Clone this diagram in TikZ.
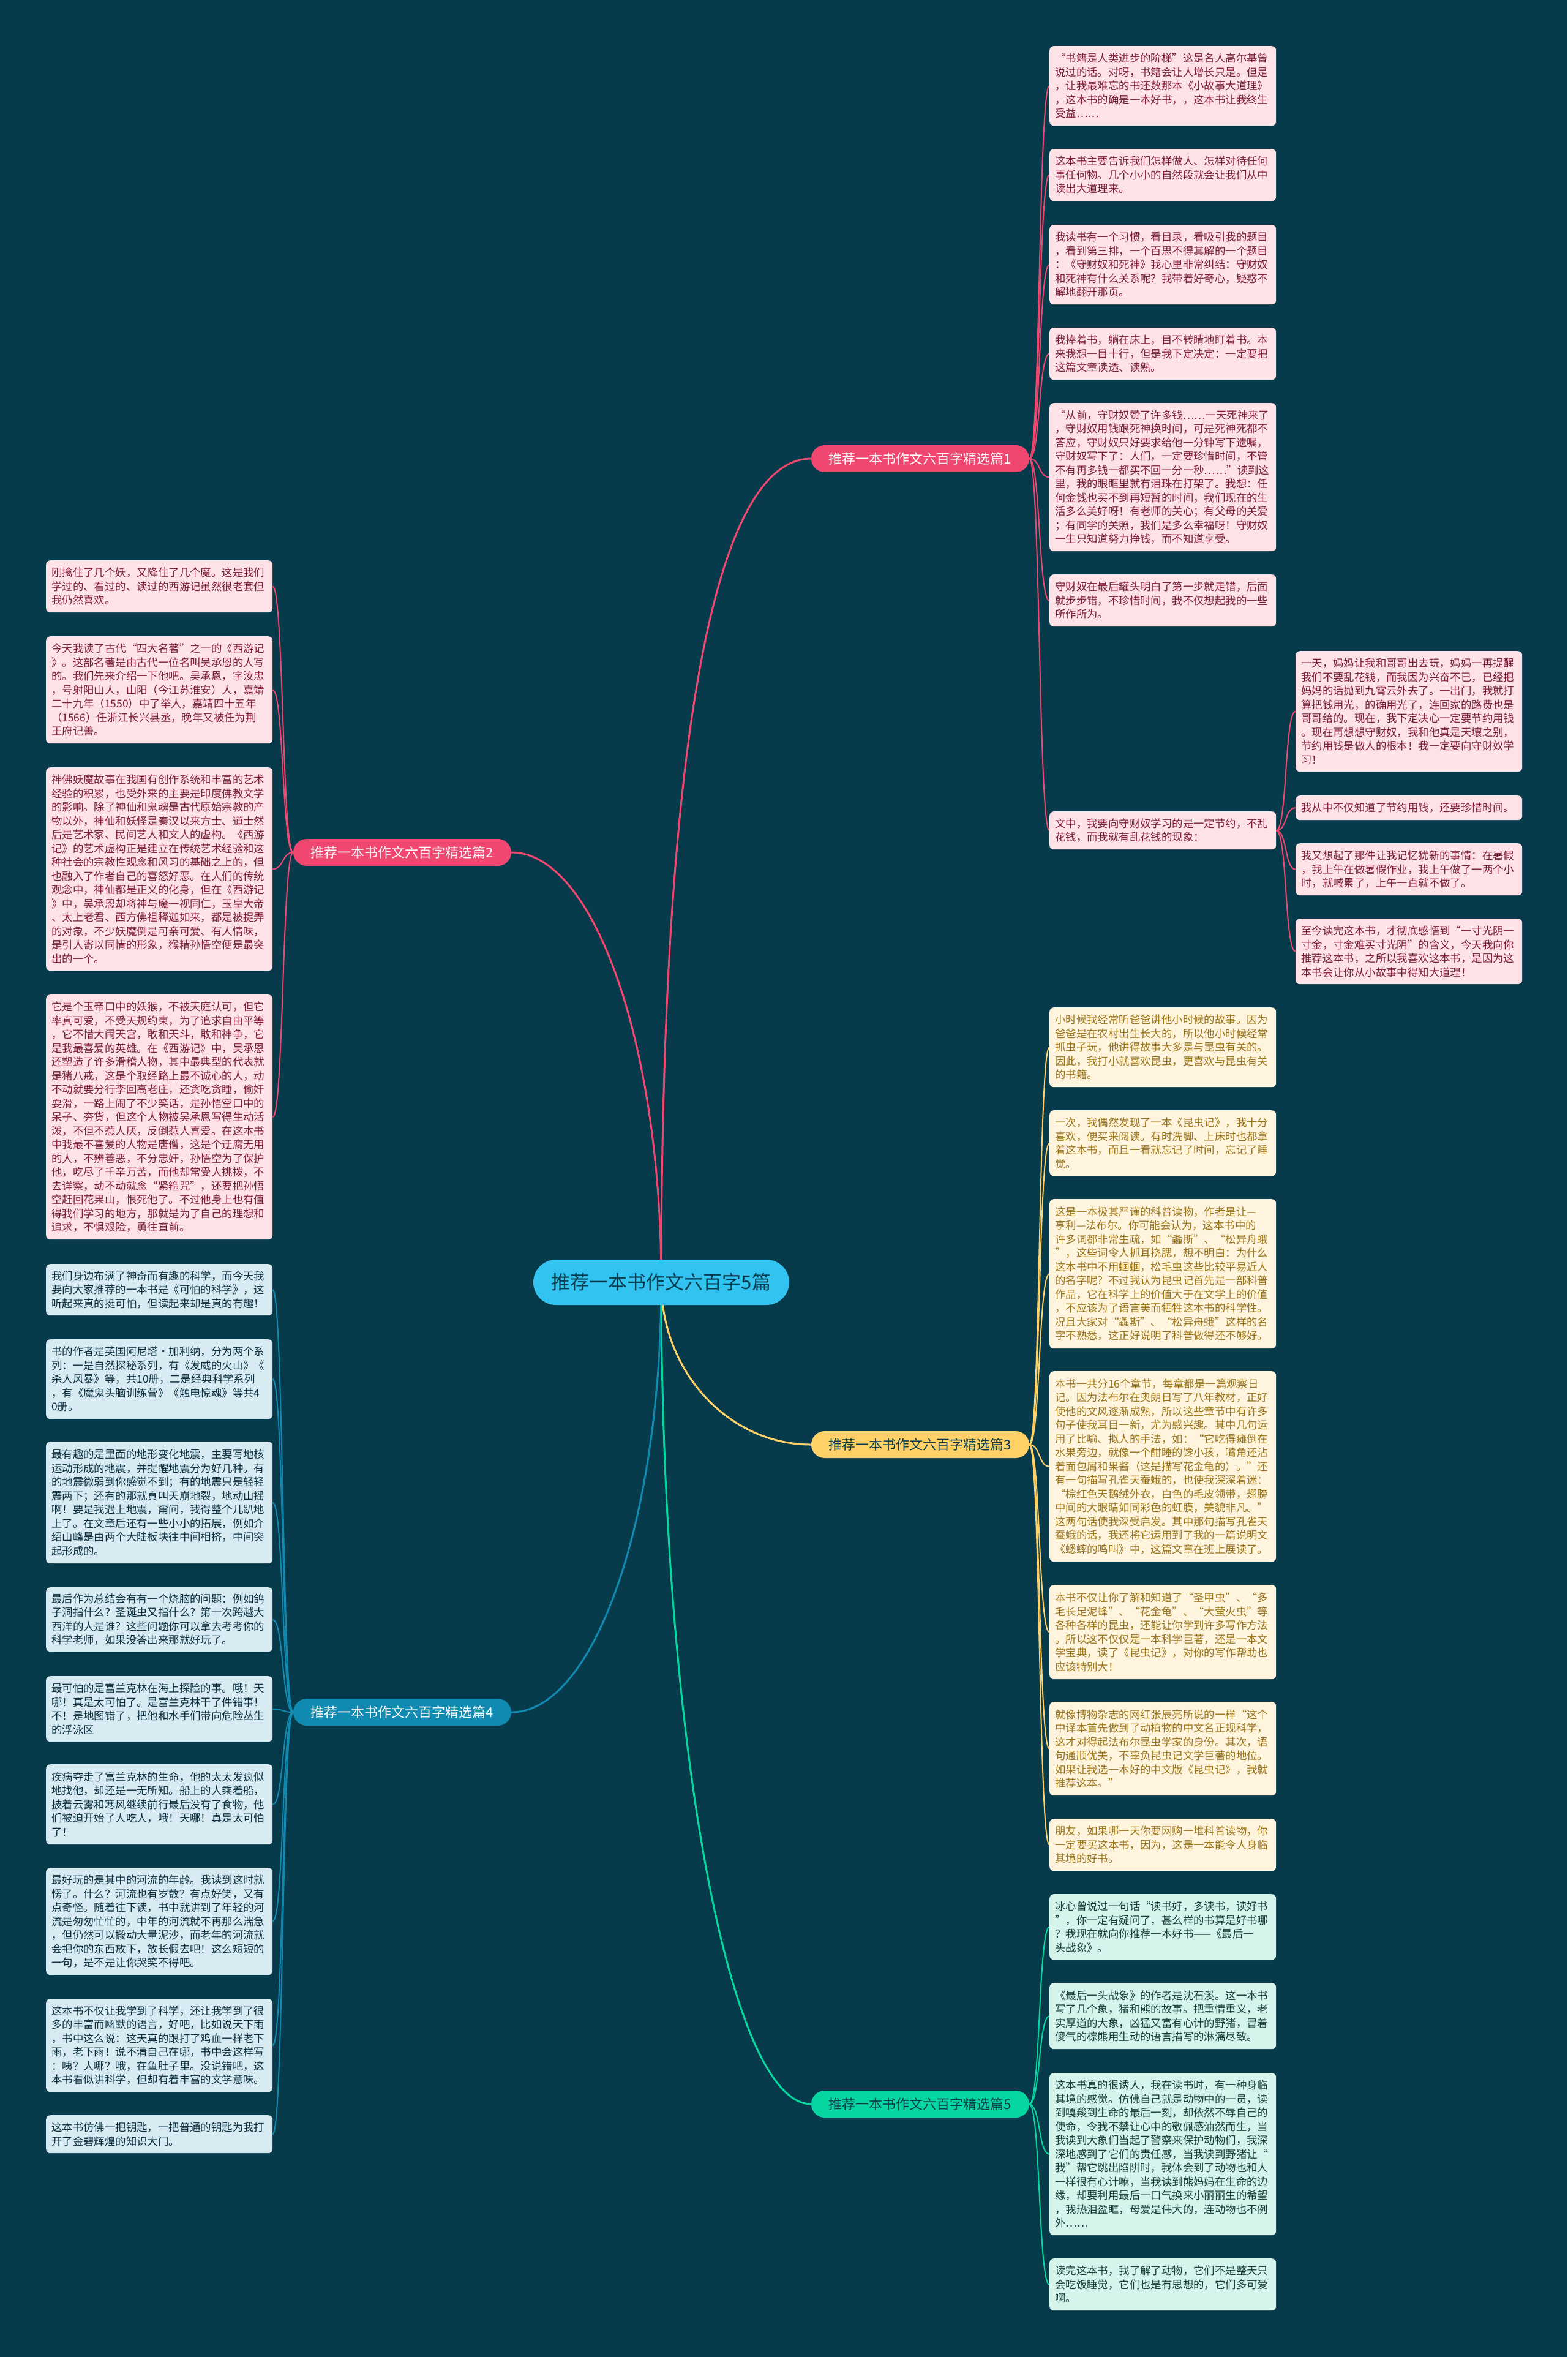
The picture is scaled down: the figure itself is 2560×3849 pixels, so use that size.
\documentclass[tikz,border=0pt]{standalone}
\usepackage{fontspec}
\setmainfont{Noto Sans CJK SC}
\usetikzlibrary{backgrounds}
\definecolor{bgc}{HTML}{073B4C}
\definecolor{cpink}{HTML}{EF476F}
\definecolor{cyel}{HTML}{FFD166}
\definecolor{cblue}{HTML}{118AB2}
\definecolor{cgreen}{HTML}{06D6A0}
\definecolor{ccenter}{HTML}{33C3F0}
\definecolor{fpink}{HTML}{FDE3E8}
\definecolor{tpink}{HTML}{7E1D3C}
\definecolor{fyel}{HTML}{FFF5DF}
\definecolor{tyel}{HTML}{9A7418}
\definecolor{fblue}{HTML}{D8EBF2}
\definecolor{tblue}{HTML}{0B2F3F}
\definecolor{fgreen}{HTML}{D5F5EC}
\definecolor{tgreen}{HTML}{173F38}
\begin{document}
\begin{tikzpicture}[x=1pt,y=-1pt,
  leaf/.style={anchor=north west, rounded corners=7pt, inner xsep=9pt, inner ysep=3pt,
    text width=352pt, align=left, font=\fontsize{17.4pt}{22.5pt}\selectfont},
  lp/.style={leaf, fill=fpink, text=tpink},
  ly/.style={leaf, fill=fyel, text=tyel},
  lb/.style={leaf, fill=fblue, text=tblue},
  lg/.style={leaf, fill=fgreen, text=tgreen},
  branch/.style={rounded corners=22pt, minimum width=356pt, minimum height=44pt,
    inner sep=0pt, font=\fontsize{22pt}{26pt}\selectfont},
  mainline/.style={line width=3pt},
  leafline/.style={line width=2pt}
]
\useasboundingbox (0,0) rectangle (2560,3849);

% center and branches
\node[fill=ccenter, rounded corners=37pt, minimum width=418pt, minimum height=74pt,
  inner sep=0pt, font=\fontsize{31pt}{36pt}\selectfont, text=bgc] (c) at (1080,2094) {推荐一本书作文六百字5篇};
\node[branch, fill=cpink, text=white] (b1) at (1503,749) {推荐一本书作文六百字精选篇1};
\node[branch, fill=cpink, text=white] (b2) at (657,1392) {推荐一本书作文六百字精选篇2};
\node[branch, fill=cyel, text=bgc] (b3) at (1503,2359) {推荐一本书作文六百字精选篇3};
\node[branch, fill=cblue, text=white] (b4) at (657,2796) {推荐一本书作文六百字精选篇4};
\node[branch, fill=cgreen, text=bgc] (b5) at (1503,3436) {推荐一本书作文六百字精选篇5};

% branch 1
\node[lp, minimum height=130pt] (l11) at (1714,75) {“书籍是人类进步的阶梯”这是名人高尔基曾\\说过的话。对呀，书籍会让人增长只是。但是\\，让我最难忘的书还数那本《小故事大道理》\\，这本书的确是一本好书，，这本书让我终生\\受益……};
\node[lp, minimum height=85pt] (l12) at (1714,243) {这本书主要告诉我们怎样做人、怎样对待任何\\事任何物。几个小小的自然段就会让我们从中\\读出大道理来。};
\node[lp, minimum height=130pt] (l13) at (1714,367) {我读书有一个习惯，看目录，看吸引我的题目\\，看到第三排，一个百思不得其解的一个题目\\：《守财奴和死神》我心里非常纠结：守财奴\\和死神有什么关系呢？我带着好奇心，疑惑不\\解地翻开那页。};
\node[lp, minimum height=85pt] (l14) at (1714,535) {我捧着书，躺在床上，目不转睛地盯着书。本\\来我想一目十行，但是我下定决定：一定要把\\这篇文章读透、读熟。};
\node[lp, minimum height=242pt] (l15) at (1714,658) {“从前，守财奴赞了许多钱……一天死神来了\\，守财奴用钱跟死神换时间，可是死神死都不\\答应，守财奴只好要求给他一分钟写下遗嘱，\\守财奴写下了：人们，一定要珍惜时间，不管\\不有再多钱一都买不回一分一秒……”读到这\\里，我的眼眶里就有泪珠在打架了。我想：任\\何金钱也买不到再短暂的时间，我们现在的生\\活多么美好呀！有老师的关心；有父母的关爱\\；有同学的关照，我们是多么幸福呀！守财奴\\一生只知道努力挣钱，而不知道享受。};
\node[lp, minimum height=85pt] (l16) at (1714,938) {守财奴在最后罐头明白了第一步就走错，后面\\就步步错，不珍惜时间，我不仅想起我的一些\\所作所为。};
\node[lp, minimum height=62pt] (l17) at (1714,1325) {文中，我要向守财奴学习的是一定节约，不乱\\花钱，而我就有乱花钱的现象：};

\node[lp, minimum height=197pt] (s1) at (2116,1063) {一天，妈妈让我和哥哥出去玩，妈妈一再提醒\\我们不要乱花钱，而我因为兴奋不已，已经把\\妈妈的话抛到九霄云外去了。一出门，我就打\\算把钱用光，的确用光了，连回家的路费也是\\哥哥给的。现在，我下定决心一定要节约用钱\\。现在再想想守财奴，我和他真是天壤之别，\\节约用钱是做人的根本！我一定要向守财奴学\\习！};
\node[lp, minimum height=40pt] (s2) at (2116,1299) {我从中不仅知道了节约用钱，还要珍惜时间。};
\node[lp, minimum height=85pt] (s3) at (2116,1377) {我又想起了那件让我记忆犹新的事情：在暑假\\，我上午在做暑假作业，我上午做了一两个小\\时，就喊累了，上午一直就不做了。};
\node[lp, minimum height=107pt] (s4) at (2116,1500) {至今读完这本书，才彻底感悟到“一寸光阴一\\寸金，寸金难买寸光阴”的含义，今天我向你\\推荐这本书，之所以我喜欢这本书，是因为这\\本书会让你从小故事中得知大道理！};

% branch 2
\node[lp, minimum height=85pt] (l21) at (75,915) {刚擒住了几个妖，又降住了几个魔。这是我们\\学过的、看过的、读过的西游记虽然很老套但\\我仍然喜欢。};
\node[lp, minimum height=175pt] (l22) at (75,1039) {今天我读了古代“四大名著”之一的《西游记\\》。这部名著是由古代一位名叫吴承恩的人写\\的。我们先来介绍一下他吧。吴承恩，字汝忠\\，号射阳山人，山阳（今江苏淮安）人，嘉靖\\二十九年（1550）中了举人，嘉靖四十五年\\（1566）任浙江长兴县丞，晚年又被任为荆\\王府记善。};
\node[lp, minimum height=332pt] (l23) at (75,1253) {神佛妖魔故事在我国有创作系统和丰富的艺术\\经验的积累，也受外来的主要是印度佛教文学\\的影响。除了神仙和鬼魂是古代原始宗教的产\\物以外，神仙和妖怪是秦汉以来方士、道士然\\后是艺术家、民间艺人和文人的虚构。《西游\\记》的艺术虚构正是建立在传统艺术经验和这\\种社会的宗教性观念和风习的基础之上的，但\\也融入了作者自己的喜怒好恶。在人们的传统\\观念中，神仙都是正义的化身，但在《西游记\\》中，吴承恩却将神与魔一视同仁，玉皇大帝\\、太上老君、西方佛祖释迦如来，都是被捉弄\\的对象，不少妖魔倒是可亲可爱、有人情味，\\是引人寄以同情的形象，猴精孙悟空便是最突\\出的一个。};
\node[lp, minimum height=400pt] (l24) at (75,1624) {它是个玉帝口中的妖猴，不被天庭认可，但它\\率真可爱，不受天规约束，为了追求自由平等\\，它不惜大闹天宫，敢和天斗，敢和神争，它\\是我最喜爱的英雄。在《西游记》中，吴承恩\\还塑造了许多滑稽人物，其中最典型的代表就\\是猪八戒，这是个取经路上最不诚心的人，动\\不动就要分行李回高老庄，还贪吃贪睡，偷奸\\耍滑，一路上闹了不少笑话，是孙悟空口中的\\呆子、夯货，但这个人物被吴承恩写得生动活\\泼，不但不惹人厌，反倒惹人喜爱。在这本书\\中我最不喜爱的人物是唐僧，这是个迂腐无用\\的人，不辨善恶，不分忠奸，孙悟空为了保护\\他，吃尽了千辛万苦，而他却常受人挑拨，不\\去详察，动不动就念“紧箍咒”，还要把孙悟\\空赶回花果山，恨死他了。不过他身上也有值\\得我们学习的地方，那就是为了自己的理想和\\追求，不惧艰险，勇往直前。};

% branch 3
\node[ly, minimum height=130pt] (l31) at (1714,1645) {小时候我经常听爸爸讲他小时候的故事。因为\\爸爸是在农村出生长大的，所以他小时候经常\\抓虫子玩，他讲得故事大多是与昆虫有关的。\\因此，我打小就喜欢昆虫，更喜欢与昆虫有关\\的书籍。};
\node[ly, minimum height=107pt] (l32) at (1714,1813) {一次，我偶然发现了一本《昆虫记》，我十分\\喜欢，便买来阅读。有时洗脚、上床时也都拿\\着这本书，而且一看就忘记了时间，忘记了睡\\觉。};
\node[ly, minimum height=244pt] (l33) at (1714,1958) {这是一本极其严谨的科普读物，作者是让—\\亨利—法布尔。你可能会认为，这本书中的\\许多词都非常生疏，如“螽斯”、“松异舟蛾\\”，这些词令人抓耳挠腮，想不明白：为什么\\这本书中不用蝈蝈，松毛虫这些比较平易近人\\的名字呢？不过我认为昆虫记首先是一部科普\\作品，它在科学上的价值大于在文学上的价值\\，不应该为了语言美而牺牲这本书的科学性。\\况且大家对“螽斯”、“松异舟蛾”这样的名\\字不熟悉，这正好说明了科普做得还不够好。};
\node[ly, minimum height=311pt] (l34) at (1714,2239) {本书一共分16个章节，每章都是一篇观察日\\记。因为法布尔在奥朗日写了八年教材，正好\\使他的文风逐渐成熟，所以这些章节中有许多\\句子使我耳目一新，尤为感兴趣。其中几句运\\用了比喻、拟人的手法，如：“它吃得瘫倒在\\水果旁边，就像一个酣睡的馋小孩，嘴角还沾\\着面包屑和果酱（这是描写花金龟的）。”还\\有一句描写孔雀天蚕蛾的，也使我深深着迷：\\“棕红色天鹅绒外衣，白色的毛皮领带，翅膀\\中间的大眼睛如同彩色的虹膜，美貌非凡。”\\这两句话使我深受启发。其中那句描写孔雀天\\蚕蛾的话，我还将它运用到了我的一篇说明文\\《蟋蟀的鸣叫》中，这篇文章在班上展读了。};
\node[ly, minimum height=154pt] (l35) at (1714,2588) {本书不仅让你了解和知道了“圣甲虫”、“多\\毛长足泥蜂”、“花金龟”、“大萤火虫”等\\各种各样的昆虫，还能让你学到许多写作方法\\。所以这不仅仅是一本科学巨著，还是一本文\\学宝典，读了《昆虫记》，对你的写作帮助也\\应该特别大！};
\node[ly, minimum height=153pt] (l36) at (1714,2779) {就像博物杂志的网红张辰亮所说的一样“这个\\中译本首先做到了动植物的中文名正规科学，\\这才对得起法布尔昆虫学家的身份。其次，语\\句通顺优美，不辜负昆虫记文学巨著的地位。\\如果让我选一本好的中文版《昆虫记》，我就\\推荐这本。”};
\node[ly, minimum height=85pt] (l37) at (1714,2970) {朋友，如果哪一天你要网购一堆科普读物，你\\一定要买这本书，因为，这是一本能令人身临\\其境的好书。};

% branch 4
\node[lb, minimum height=84pt] (l41) at (75,2064) {我们身边布满了神奇而有趣的科学，而今天我\\要向大家推荐的一本书是《可怕的科学》，这\\听起来真的挺可怕，但读起来却是真的有趣！};
\node[lb, minimum height=130pt] (l42) at (75,2187) {书的作者是英国阿尼塔·加利纳，分为两个系\\列：一是自然探秘系列，有《发威的火山》《\\杀人风暴》等，共10册，二是经典科学系列\\，有《魔鬼头脑训练营》《触电惊魂》等共4\\0册。};
\node[lb, minimum height=199pt] (l43) at (75,2354) {最有趣的是里面的地形变化地震，主要写地核\\运动形成的地震，并提醒地震分为好几种。有\\的地震微弱到你感觉不到；有的地震只是轻轻\\震两下；还有的那就真叫天崩地裂，地动山摇\\啊！要是我遇上地震，甭问，我得整个儿趴地\\上了。在文章后还有一些小小的拓展，例如介\\绍山峰是由两个大陆板块往中间相挤，中间突\\起形成的。};
\node[lb, minimum height=105pt] (l44) at (75,2592) {最后作为总结会有有一个烧脑的问题：例如鸽\\子洞指什么？圣诞虫又指什么？第一次跨越大\\西洋的人是谁？这些问题你可以拿去考考你的\\科学老师，如果没答出来那就好玩了。};
\node[lb, minimum height=107pt] (l45) at (75,2737) {最可怕的是富兰克林在海上探险的事。哦！天\\哪！真是太可怕了。是富兰克林干了件错事！\\不！是地图错了，把他和水手们带向危险丛生\\的浮泳区};
\node[lb, minimum height=131pt] (l46) at (75,2881) {疾病夺走了富兰克林的生命，他的太太发疯似\\地找他，却还是一无所知。船上的人乘着船，\\披着云雾和寒风继续前行最后没有了食物，他\\们被迫开始了人吃人，哦！天哪！真是太可怕\\了！};
\node[lb, minimum height=175pt] (l47) at (75,3050) {最好玩的是其中的河流的年龄。我读到这时就\\愣了。什么？河流也有岁数？有点好笑，又有\\点奇怪。随着往下读，书中就讲到了年轻的河\\流是匆匆忙忙的，中年的河流就不再那么湍急\\，但仍然可以搬动大量泥沙，而老年的河流就\\会把你的东西放下，放长假去吧！这么短短的\\一句，是不是让你哭笑不得吧。};
\node[lb, minimum height=152pt] (l48) at (75,3264) {这本书不仅让我学到了科学，还让我学到了很\\多的丰富而幽默的语言，好吧，比如说天下雨\\，书中这么说：这天真的跟打了鸡血一样老下\\雨，老下雨！说不清自己在哪，书中会这样写\\：咦？人哪？哦，在鱼肚子里。没说错吧，这\\本书看似讲科学，但却有着丰富的文学意味。};
\node[lb, minimum height=62pt] (l49) at (75,3454) {这本书仿佛一把钥匙，一把普通的钥匙为我打\\开了金碧辉煌的知识大门。};

% branch 5
\node[lg, minimum height=107pt] (l51) at (1714,3093) {冰心曾说过一句话“读书好，多读书，读好书\\”，你一定有疑问了，甚么样的书算是好书哪\\？我现在就向你推荐一本好书——《最后一\\头战象》。};
\node[lg, minimum height=108pt] (l52) at (1714,3238) {《最后一头战象》的作者是沈石溪。这一本书\\写了几个象，猪和熊的故事。把重情重义，老\\实厚道的大象，凶猛又富有心计的野猪，冒着\\傻气的棕熊用生动的语言描写的淋漓尽致。};
\node[lg, minimum height=265pt] (l53) at (1714,3385) {这本书真的很诱人，我在读书时，有一种身临\\其境的感觉。仿佛自己就是动物中的一员，读\\到嘎羧到生命的最后一刻，却依然不辱自己的\\使命，令我不禁让心中的敬佩感油然而生，当\\我读到大象们当起了警察来保护动物们，我深\\深地感到了它们的责任感，当我读到野猪让“\\我”帮它跳出陷阱时，我体会到了动物也和人\\一样很有心计嘛，当我读到熊妈妈在生命的边\\缘，却要利用最后一口气换来小丽丽生的希望\\，我热泪盈眶，母爱是伟大的，连动物也不例\\外……};
\node[lg, minimum height=85pt] (l54) at (1714,3688) {读完这本书，我了解了动物，它们不是整天只\\会吃饭睡觉，它们也是有思想的，它们多可爱\\啊。};

\begin{pgfonlayer}{background}
\fill[bgc] (0,0) rectangle (2560,3849);
\draw[cpink, mainline] (c.center) .. controls (1080,1250) and (1160,749) .. (b1.west);
\draw[cpink, mainline] (c.center) .. controls (1080,1706) and (970,1392) .. (b2.east);
\draw[cyel, mainline] (c.center) .. controls (1080,2240) and (1190,2359) .. (b3.west);
\draw[cblue, mainline] (c.center) .. controls (1080,2482) and (970,2796) .. (b4.east);
\draw[cgreen, mainline] (c.center) .. controls (1080,2835) and (1190,3436) .. (b5.west);
\foreach \n in {l11,l12,l13,l14,l15,l16,l17}
  \draw[cpink, leafline] (b1.east) .. controls +(18,0) and +(-18,0) .. (\n.west);
\foreach \n in {s1,s2,s3,s4}
  \draw[cpink, leafline] (l17.east) .. controls +(18,0) and +(-18,0) .. (\n.west);
\foreach \n in {l21,l22,l23,l24}
  \draw[cpink, leafline] (b2.west) .. controls +(-18,0) and +(18,0) .. (\n.east);
\foreach \n in {l31,l32,l33,l34,l35,l36,l37}
  \draw[cyel, leafline] (b3.east) .. controls +(18,0) and +(-18,0) .. (\n.west);
\foreach \n in {l41,l42,l43,l44,l45,l46,l47,l48,l49}
  \draw[cblue, leafline] (b4.west) .. controls +(-18,0) and +(18,0) .. (\n.east);
\foreach \n in {l51,l52,l53,l54}
  \draw[cgreen, leafline] (b5.east) .. controls +(18,0) and +(-18,0) .. (\n.west);
\end{pgfonlayer}
\end{tikzpicture}
\end{document}
